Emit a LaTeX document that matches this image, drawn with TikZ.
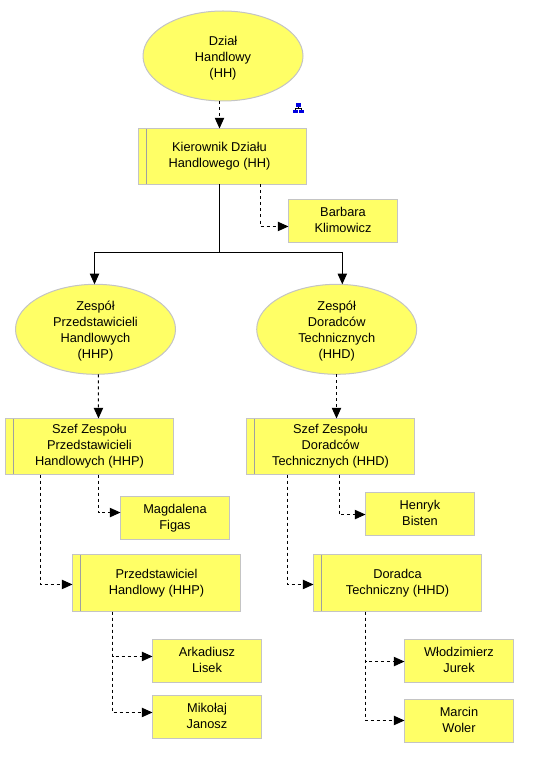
\documentclass[tikz,border=0pt]{standalone}
\usepackage{fontspec}
\setmainfont{Liberation Sans}
\usetikzlibrary{shapes.geometric,arrows.meta}
\definecolor{fillY}{HTML}{FFFF66}
\definecolor{edgeG}{HTML}{C4C4C4}
\definecolor{barG}{HTML}{A0A0A0}
\definecolor{iconB}{HTML}{0000E0}
\newcommand{\tpE}{\rule{0pt}{11pt}}
\newcommand{\tpB}{\rule{0pt}{9.2pt}}
\tikzset{
  base/.style={draw=edgeG,fill=fillY,line width=0.75pt,outer sep=0pt,inner sep=0pt,align=center,font=\fontsize{9.6}{12}\selectfont},
  botpad/.style={execute at end node={\rule[-#1pt]{0pt}{0pt}}},
  unitell/.style={base,ellipse,inner sep=-4pt,minimum width=120pt,minimum height=67.5pt,botpad=3},
  posbox/.style={base,rectangle,minimum width=126pt,minimum height=42pt,botpad=4.7,
    path picture={\draw[barG,line width=0.75pt] ([xshift=6pt]path picture bounding box.north west) -- ([xshift=6pt]path picture bounding box.south west);}},
  bigbox/.style={posbox,minimum height=42.75pt},
  person/.style={base,rectangle,minimum width=81.75pt,minimum height=32.25pt,botpad=3.3},
  tipd/.style={-{Triangle[length=8pt,width=7pt]}},
  solidc/.style={black,line width=0.75pt,tipd},
  dashc/.style={black,line width=0.75pt,tipd,dash pattern=on 2.25pt off 2.25pt},
}
\begin{document}
\begin{tikzpicture}[x=0.75pt,y=-0.75pt]
\useasboundingbox (0,0) rectangle (540,759);
\node[unitell] (dzial) at (223,56) {\tpE Dział\\Handlowy\\(HH)};
\node[posbox] (kier) at (222.5,156.5) {\hspace*{-4.5pt}\tpB Kierownik Działu\\\hspace*{-4.5pt}Handlowego (HH)};
\node[person] (barb) at (343,221) {\tpB Barbara\\Klimowicz};
\node[unitell] (zhhp) at (95.5,329.3) {\tpE Zespół\\Przedstawicieli\\Handlowych\\(HHP)};
\node[unitell] (zhhd) at (336.7,329.3) {\tpE Zespół\\Doradców\\Technicznych\\(HHD)};
\node[posbox] (shhp) at (89.5,446.5) {\tpB Szef Zespołu\\Przedstawicieli\\Handlowych (HHP)};
\node[posbox] (shhd) at (330.5,446.5) {\tpB Szef Zespołu\\Doradców\\Technicznych (HHD)};
\node[person] (magd) at (175,518) {\tpB Magdalena\\Figas};
\node[person] (henr) at (420,514) {\tpB Henryk\\Bisten};
\node[bigbox] (prze) at (156.5,583) {\tpB Przedstawiciel\\Handlowy (HHP)};
\node[bigbox] (dora) at (397.5,583) {\tpB Doradca\\Techniczny (HHD)};
\node[person] (arka) at (207,661) {\tpB Arkadiusz\\Lisek};
\node[person] (miko) at (207,717) {\tpB Mikołaj\\Janosz};
\node[person] (wlod) at (459,661) {\tpB Włodzimierz\\Jurek};
\node[person] (marc) at (459,721) {\tpB Marcin\\Woler};
% icon
\draw[black,line width=0.75pt] (298.5,107) -- (298.5,108.5) (295.5,110) -- (295.5,108.5) -- (301.5,108.5) -- (301.5,110);
\fill[iconB] (296,103) rectangle (301,107);
\fill[iconB] (293,110) rectangle (298,113);
\fill[iconB] (299,110) rectangle (304,113);
% connectors
\coordinate (bus) at (219.5,252.5);
\coordinate (dropl) at (94.5,252.5);
\coordinate (dropr) at (342.3,252.5);
\draw[black,line width=0.75pt] (kier.south -| bus) -- (bus);
\draw[solidc] (bus) -- (dropl) -- (dropl |- zhhp.north);
\draw[solidc] (bus) -- (dropr) -- (dropr |- zhhd.north);
\draw[dashc] (dzial.south -| bus) -- (kier.north -| bus);
\draw[dashc] ([xshift=28.5pt]kier.south) |- ([yshift=-4.1pt]barb.west);
\draw[dashc] ([xshift=2.1pt]zhhp.south) -- ([xshift=6.75pt]shhp.north);
\draw[dashc] ([xshift=-0.15pt]zhhd.south) -- ([xshift=4.5pt]shhd.north);
\draw[dashc] ([xshift=6.75pt]shhp.south) |- ([yshift=4.1pt]magd.west);
\draw[dashc] ([xshift=-36.75pt]shhp.south) |- ([yshift=-1.1pt]prze.west);
\draw[dashc] ([xshift=6.75pt]shhd.south) |- ([yshift=-0.4pt]henr.west);
\draw[dashc] ([xshift=-32.25pt]shhd.south) |- ([yshift=-1.1pt]dora.west);
\draw[dashc] ([xshift=-33pt]prze.south) |- ([yshift=3.4pt]arka.west);
\draw[dashc] ([xshift=-33pt]prze.south) |- ([yshift=3.4pt]miko.west);
\draw[dashc] ([xshift=-24pt]dora.south) |- ([yshift=-0.4pt]wlod.west);
\draw[dashc] ([xshift=-24pt]dora.south) |- ([yshift=0.4pt]marc.west);
\end{tikzpicture}
\end{document}
